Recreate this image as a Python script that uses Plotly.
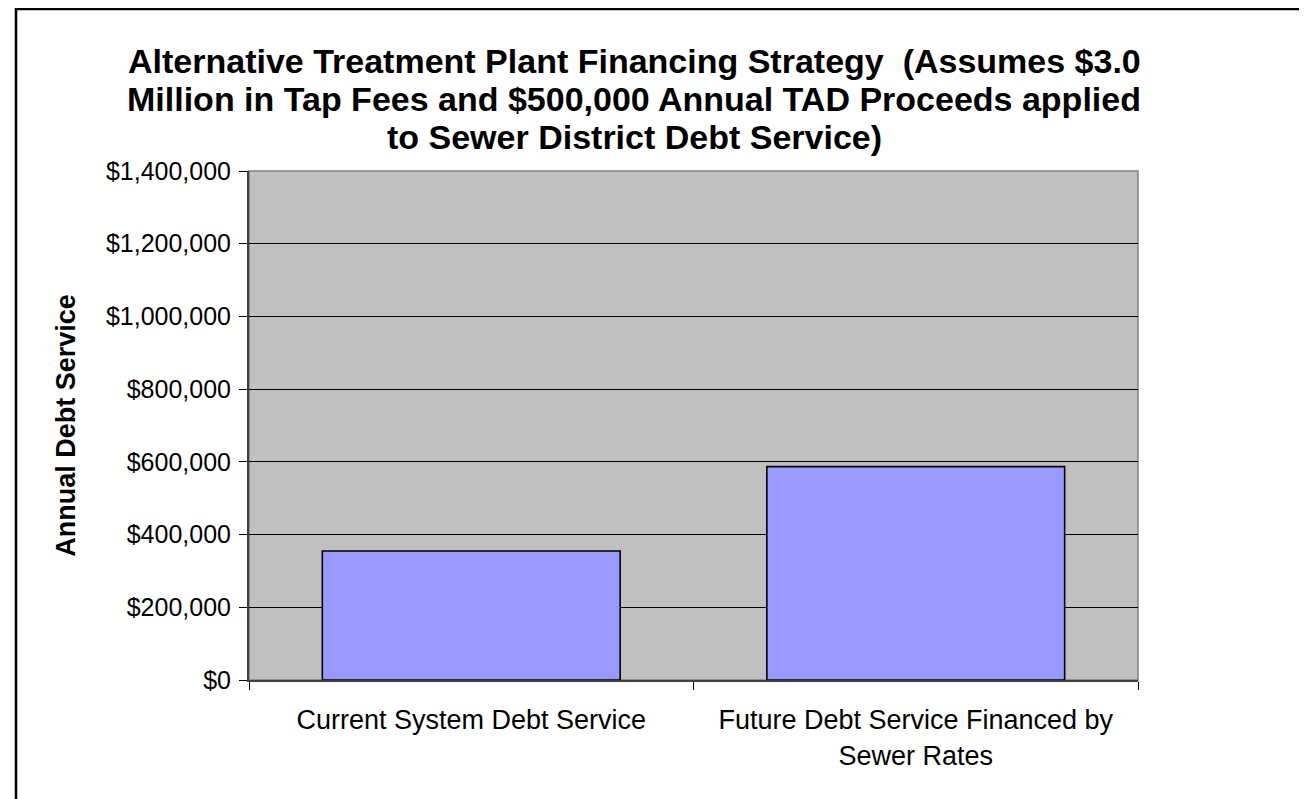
import plotly.graph_objects as go

categories = ["Current System Debt Service", "Future Debt Service Financed by<br>Sewer Rates"]
values = [355000, 587000]
y_ticks = [0, 200000, 400000, 600000, 800000, 1000000, 1200000, 1400000]
title_lines = [
    "Alternative Treatment Plant Financing Strategy  (Assumes $3.0",
    "Million in Tap Fees and $500,000 Annual TAD Proceeds applied",
    "to Sewer District Debt Service)",
]

# page is rendered with an 8px body margin; compensate
OFF = 8
PAGE_W, PAGE_H = 1307, 799
W, H = PAGE_W - OFF, PAGE_H - OFF
L, R, T, B = 249, 1138, 171, 680   # plot area in page pixels

def px_x(px):
    return (px - L) / (R - L)

def px_y(py):
    return (B - py) / (B - T)

fig = go.Figure()
fig.add_trace(go.Bar(
    x=categories, y=values,
    marker=dict(color="#9999FF", line=dict(color="#000000", width=1.6)),
    hoverinfo="x+y",
))

title_font = dict(size=34, family="Liberation Sans, Arial, sans-serif", color="#000000")
title_centers = [61, 99, 137]
annotations = [
    dict(text="<b>" + line + "</b>", xref="paper", yref="paper",
         x=px_x(634), y=px_y(cy), xanchor="center", yanchor="middle",
         showarrow=False, font=title_font)
    for line, cy in zip(title_lines, title_centers)
]

fig.update_layout(
    width=W, height=H,
    margin=dict(l=L - OFF, r=PAGE_W - R, t=T - OFF, b=PAGE_H - B, pad=0),
    paper_bgcolor="white",
    plot_bgcolor="#C0C0C0",
    bargap=0.33,
    showlegend=False,
    font=dict(family="Liberation Sans, Arial, sans-serif", color="#000000"),
    annotations=annotations,
    xaxis=dict(
        showgrid=False,
        showline=True, linecolor="#404040", linewidth=2,
        ticks="outside", tickson="boundaries", ticklen=8, tickcolor="#000000", tickwidth=1,
        tickfont=dict(size=27, color="#000000"),
        ticklabelstandoff=15,
    ),
    yaxis=dict(
        range=[0, 1400000],
        tickvals=y_ticks,
        tickformat="$,.0f",
        showgrid=True, gridcolor="#000000", gridwidth=1,
        showline=True, linecolor="#404040", linewidth=2,
        ticks="outside", ticklen=8, tickcolor="#000000", tickwidth=1,
        tickfont=dict(size=25, color="#000000"),
        ticklabelstandoff=3,
        zeroline=False,
        title=dict(text="<b>Annual Debt Service</b>", font=dict(size=27, color="#000000"), standoff=22),
    ),
    shapes=[
        dict(type="rect", xref="paper", yref="paper", x0=0, x1=1, y0=0, y1=1,
             line=dict(color="#808080", width=1.5), layer="below"),
        dict(type="rect", xref="paper", yref="paper",
             x0=px_x(16), x1=px_x(1305), y0=px_y(830), y1=px_y(9),
             line=dict(color="#000000", width=2.5), fillcolor="rgba(0,0,0,0)"),
    ],
)

fig.write_html("out.html")
